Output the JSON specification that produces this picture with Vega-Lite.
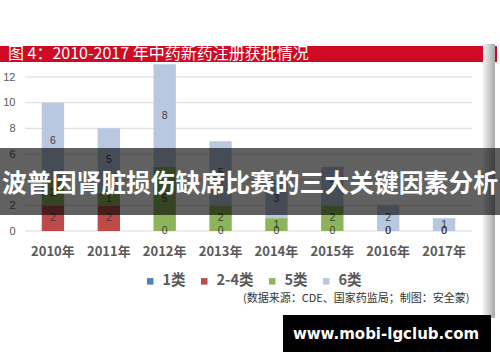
{
  "$schema": "https://vega.github.io/schema/vega-lite/v6.json",
  "width": 500,
  "height": 362,
  "autosize": {"type": "none"},
  "padding": 0,
  "background": "white",
  "config": {"view": {"stroke": null}, "font": "Noto Sans CJK SC"},
  "layer": [
    {
      "data": {"values": [{"g": 0}, {"g": 2}, {"g": 4}, {"g": 6}, {"g": 8}, {"g": 10}, {"g": 12}]},
      "mark": {"type": "rule", "color": "#d9d9d9", "strokeWidth": 1},
      "encoding": {
        "y": {
          "field": "g", "type": "quantitative",
          "scale": {"domain": [0, 12], "range": [231, 77], "nice": false, "zero": false},
          "axis": {
            "orient": "left", "values": [0, 2, 4, 6, 8, 10, 12], "domain": false, "ticks": false, "tickSize": 0, "grid": false,
            "labelPadding": -15, "labelAlign": "right", "labelFontSize": 11, "labelColor": "#595959", "labelFont": "Liberation Sans", "title": null
          }
        },
        "x": {"datum": 0.05, "type": "quantitative", "scale": {"domain": [0, 1], "nice": false}, "axis": null},
        "x2": {"datum": 0.944}
      }
    },
    {
      "data": {"values": [
        {"year": "2010年", "cat": "2-4类", "v": 2, "ord": 2},
        {"year": "2010年", "cat": "5类", "v": 2, "ord": 3},
        {"year": "2010年", "cat": "6类", "v": 6, "ord": 4},
        {"year": "2011年", "cat": "2-4类", "v": 2, "ord": 2},
        {"year": "2011年", "cat": "5类", "v": 1, "ord": 3},
        {"year": "2011年", "cat": "6类", "v": 5, "ord": 4},
        {"year": "2012年", "cat": "2-4类", "v": 0, "ord": 2},
        {"year": "2012年", "cat": "5类", "v": 5, "ord": 3},
        {"year": "2012年", "cat": "6类", "v": 8, "ord": 4},
        {"year": "2013年", "cat": "2-4类", "v": 0, "ord": 2},
        {"year": "2013年", "cat": "5类", "v": 2, "ord": 3},
        {"year": "2013年", "cat": "6类", "v": 5, "ord": 4},
        {"year": "2014年", "cat": "2-4类", "v": 0, "ord": 2},
        {"year": "2014年", "cat": "5类", "v": 1, "ord": 3},
        {"year": "2014年", "cat": "6类", "v": 3, "ord": 4},
        {"year": "2015年", "cat": "2-4类", "v": 0, "ord": 2},
        {"year": "2015年", "cat": "5类", "v": 2, "ord": 3},
        {"year": "2015年", "cat": "6类", "v": 3, "ord": 4},
        {"year": "2016年", "cat": "2-4类", "v": 0, "ord": 2},
        {"year": "2016年", "cat": "5类", "v": 0, "ord": 3},
        {"year": "2016年", "cat": "6类", "v": 2, "ord": 4},
        {"year": "2017年", "cat": "2-4类", "v": 0, "ord": 2},
        {"year": "2017年", "cat": "5类", "v": 0, "ord": 3},
        {"year": "2017年", "cat": "6类", "v": 1, "ord": 4}
      ]},
      "layer": [
        {
          "mark": {"type": "bar"},
          "encoding": {
            "x": {
              "field": "year", "type": "nominal",
              "scale": {"range": [25, 472], "paddingInner": 0.6, "paddingOuter": 0.3},
              "axis": {
                "orient": "bottom", "offset": -131, "domain": false, "ticks": false, "grid": false,
                "labelPadding": 14, "labelFontSize": 13, "labelFontWeight": "bold", "labelColor": "#595959", "labelAngle": 0,
                "title": "(数据来源：CDE、国家药监局；制图：安全蒙)",
                "titleX": 469, "titleY": 67, "titleAlign": "right", "titleBaseline": "middle",
                "titleFontSize": 11, "titleFontWeight": "normal", "titleColor": "#333333"
              }
            },
            "y": {
              "field": "v", "type": "quantitative", "stack": "zero",
              "scale": {"domain": [0, 12], "range": [231, 77], "nice": false, "zero": false},
              "axis": null
            },
            "color": {
              "field": "cat", "type": "nominal",
              "scale": {"domain": ["1类", "2-4类", "5类", "6类"], "range": ["#4F7FBE", "#BE4B48", "#8DB45A", "#B8C8E0"]},
              "legend": {
                "orient": "none", "legendX": 143, "legendY": 274, "direction": "horizontal", "title": null,
                "symbolType": "square", "symbolSize": 42, "symbolStrokeWidth": 0,
                "labelFontSize": 14.5, "labelFontWeight": "bold", "labelColor": "#595959", "labelOffset": 5, "columnPadding": 11
              }
            },
            "order": {"field": "ord", "type": "quantitative"}
          }
        },
        {
          "mark": {"type": "text", "fontSize": 10.5, "color": "#404040", "font": "Liberation Sans", "baseline": "middle"},
          "encoding": {
            "x": {"field": "year", "type": "nominal", "scale": {"range": [25, 472], "paddingInner": 0.6, "paddingOuter": 0.3}},
            "y": {"field": "v", "type": "quantitative", "stack": "zero", "bandPosition": 0.5, "axis": null},
            "text": {"field": "v", "type": "quantitative"},
            "order": {"field": "ord", "type": "quantitative"}
          }
        }
      ]
    },
    {
      "data": {"values": [{}]},
      "layer": [
        {
          "mark": {"type": "rect", "color": "#D00A25"},
          "encoding": {
            "x": {"datum": 0, "type": "quantitative", "scale": {"domain": [0, 1], "nice": false}, "axis": null},
            "x2": {"datum": 0.994},
            "y": {"datum": 14.42, "type": "quantitative", "axis": null},
            "y2": {"datum": 13.17}
          }
        },
        {
          "mark": {"type": "text", "color": "white", "fontSize": 16, "align": "left", "baseline": "middle", "text": "图 4：2010-2017 年中药新药注册获批情况"},
          "encoding": {
            "x": {"datum": 0.016, "type": "quantitative", "axis": null},
            "y": {"datum": 13.79, "type": "quantitative", "axis": null}
          }
        },
        {
          "mark": {"type": "rect", "color": {"gradient": "linear", "x1": 0, "x2": 1, "y1": 0, "y2": 0, "stops": [{"offset": 0, "color": "#f4f4f4"}, {"offset": 1, "color": "#a8a8a8"}]}},
          "encoding": {
            "x": {"datum": 0.966, "type": "quantitative", "axis": null},
            "x2": {"datum": 0.99},
            "y": {"datum": 14.57, "type": "quantitative", "axis": null},
            "y2": {"datum": -6.78}
          }
        },
        {
          "mark": {"type": "rect", "color": "black", "opacity": 0.62},
          "encoding": {
            "x": {"datum": 0, "type": "quantitative", "axis": null},
            "x2": {"datum": 1},
            "y": {"datum": 6.47, "type": "quantitative", "axis": null},
            "y2": {"datum": 1.25}
          }
        },
        {
          "mark": {"type": "text", "color": "white", "fontSize": 24.8, "fontWeight": "bold", "align": "center", "baseline": "middle", "text": "波普因肾脏损伤缺席比赛的三大关键因素分析"},
          "encoding": {
            "x": {"datum": 0.5, "type": "quantitative", "axis": null},
            "y": {"datum": 3.62, "type": "quantitative", "axis": null}
          }
        },
        {
          "mark": {"type": "rect", "color": "black"},
          "encoding": {
            "x": {"datum": 0.566, "type": "quantitative", "axis": null},
            "x2": {"datum": 0.982},
            "y": {"datum": -6.55, "type": "quantitative", "axis": null},
            "y2": {"datum": -9.43}
          }
        },
        {
          "mark": {"type": "text", "color": "white", "fontSize": 15, "fontWeight": "bold", "font": "DejaVu Sans", "align": "center", "baseline": "middle", "text": "www.mobi-lgclub.com"},
          "encoding": {
            "x": {"datum": 0.772, "type": "quantitative", "axis": null},
            "y": {"datum": -8.0, "type": "quantitative", "axis": null}
          }
        }
      ]
    }
  ],
  "resolve": {"scale": {"x": "independent"}, "axis": {"y": "independent"}}
}
